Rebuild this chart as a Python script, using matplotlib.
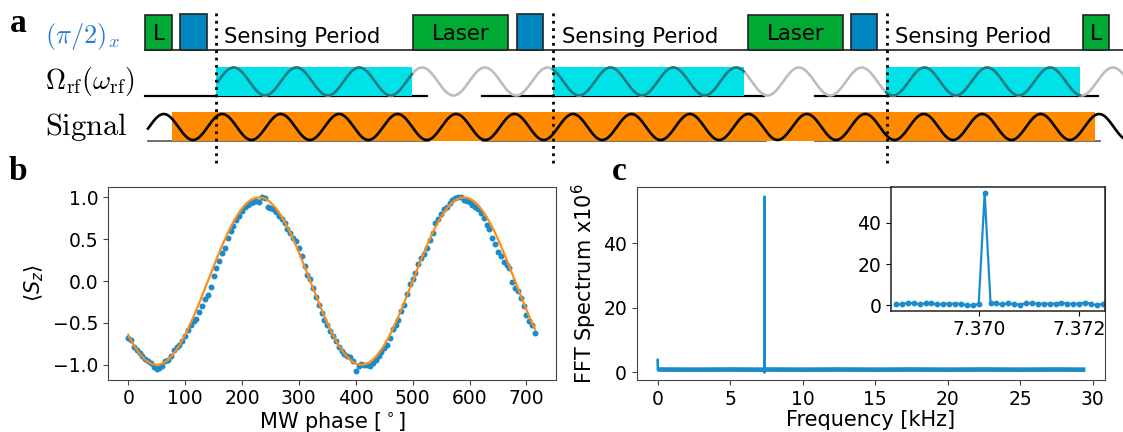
import numpy as np
import matplotlib.pyplot as plt
from matplotlib.patches import Rectangle

# ---------- panel a: pulse sequence (timeline units = px of the sketch) ----------
green_pulses = [(145, 172), (413, 508), (748, 843), (1083, 1109)]
green_labels = ['L', 'Laser', 'Laser', 'L']
blue_pulses = [(180, 207), (517, 543), (851, 877)]
sensing_starts = [216, 553, 887]
sensing_text_x = [224, 562, 895]
rf_windows = [(216, 412), (553, 744), (886, 1080)]
rf_baselines = [(145, 427), (482, 764), (815, 1098)]
rf_start, rf_end, rf_period = 218, 1123, 62.8
signal_box = (172, 1095)
signal_start, signal_end, signal_period, signal_trough = 148, 1123, 58.46, 193
seq_start, seq_end = 145, 1123

# ---------- panel b: Ramsey fringe vs MW phase ----------
phase = [0, 5, 10, 15, 20, 25, 30, 35, 40, 45, 50, 55, 60, 65, 70, 75, 80, 85, 90, 95,
         100, 105, 110, 115, 120, 125, 130, 135, 140, 145, 150, 155, 160, 165, 170, 175,
         180, 185, 190, 195, 200, 205, 210, 215, 220, 225, 230, 235, 240, 245, 250, 255,
         260, 265, 270, 275, 280, 285, 290, 295, 300, 305, 310, 315, 320, 325, 330, 335,
         340, 345, 350, 355, 360, 365, 370, 375, 380, 385, 390, 395, 400, 405, 410, 415,
         420, 425, 430, 435, 440, 445, 450, 455, 460, 465, 470, 475, 480, 485, 490, 495,
         500, 505, 510, 515, 520, 525, 530, 535, 540, 545, 550, 555, 560, 565, 570, 575,
         580, 585, 590, 595, 600, 605, 610, 615, 620, 625, 630, 635, 640, 645, 650, 655,
         660, 665, 670, 675, 680, 685, 690, 695, 700, 705, 710, 715]
sz = [-0.68, -0.70, -0.79, -0.82, -0.86, -0.90, -0.93, -0.96, -0.98, -1.03, -1.05, -1.04,
      -1.01, -0.95, -0.94, -0.90, -0.82, -0.79, -0.76, -0.72, -0.66, -0.59, -0.52, -0.48,
      -0.45, -0.37, -0.30, -0.22, -0.17, -0.07, 0.06, 0.15, 0.24, 0.33, 0.39, 0.52,
      0.60, 0.66, 0.73, 0.78, 0.84, 0.88, 0.91, 0.93, 0.95, 0.96, 0.94, 1.01, 0.99, 0.89,
      0.87, 0.86, 0.83, 0.78, 0.74, 0.69, 0.62, 0.58, 0.52, 0.48, 0.40, 0.30, 0.18, 0.07,
      0.02, -0.08, -0.19, -0.29, -0.38, -0.46, -0.52, -0.60, -0.66, -0.72, -0.79, -0.84,
      -0.87, -0.89, -0.91, -0.95, -1.08, -1.02, -0.99, -1.00, -1.00, -1.01, -0.98, -0.94,
      -0.89, -0.85, -0.80, -0.76, -0.68, -0.57, -0.52, -0.47, -0.36, -0.29, -0.15, -0.03,
      0.02, 0.10, 0.20, 0.27, 0.32, 0.40, 0.49, 0.58, 0.69, 0.74, 0.80, 0.86, 0.89, 0.93,
      0.97, 0.99, 1.00, 1.00, 0.97, 0.96, 0.94, 0.91, 0.88, 0.86, 0.81, 0.75, 0.67, 0.62,
      0.51, 0.44, 0.35, 0.30, 0.23, 0.19, 0.15, -0.01, -0.08, -0.12, -0.20, -0.30, -0.40,
      -0.48, -0.53, -0.62]
fit_phase = phase
fit_sz = [-0.643, -0.707, -0.766, -0.819, -0.866, -0.906, -0.940, -0.966, -0.985, -0.996,
          -1.000, -0.996, -0.985, -0.966, -0.940, -0.906, -0.866, -0.819, -0.766, -0.707,
          -0.643, -0.574, -0.500, -0.423, -0.342, -0.259, -0.174, -0.087, 0.000, 0.087,
          0.174, 0.259, 0.342, 0.423, 0.500, 0.574, 0.643, 0.707, 0.766, 0.819, 0.866,
          0.906, 0.940, 0.966, 0.985, 0.996, 1.000, 0.996, 0.985, 0.966, 0.940, 0.906,
          0.866, 0.819, 0.766, 0.707, 0.643, 0.574, 0.500, 0.423, 0.342, 0.259, 0.174,
          0.087, 0.000, -0.087, -0.174, -0.259, -0.342, -0.423, -0.500, -0.574, -0.643,
          -0.707, -0.766, -0.819, -0.866, -0.906, -0.940, -0.966, -0.985, -0.996, -1.000,
          -0.996, -0.985, -0.966, -0.940, -0.906, -0.866, -0.819, -0.766, -0.707, -0.643,
          -0.574, -0.500, -0.423, -0.342, -0.259, -0.174, -0.087, 0.000, 0.087, 0.174,
          0.259, 0.342, 0.423, 0.500, 0.574, 0.643, 0.707, 0.766, 0.819, 0.866, 0.906,
          0.940, 0.966, 0.985, 0.996, 1.000, 0.996, 0.985, 0.966, 0.940, 0.906, 0.866,
          0.819, 0.766, 0.707, 0.643, 0.574, 0.500, 0.423, 0.342, 0.259, 0.174, 0.087,
          0.000, -0.087, -0.174, -0.259, -0.342, -0.423, -0.500, -0.574]

# ---------- panel c: FFT spectrum ----------
band_freq = [0.0, 2.5, 5.0, 7.3, 7.45, 10.0, 12.5, 15.0, 17.5, 20.0, 22.5, 25.0, 27.5, 29.5]
band_amp = [0.85, 0.8, 0.85, 0.8, 0.85, 0.8, 0.85, 0.8, 0.85, 0.8, 0.85, 0.8, 0.85, 0.8]
dc_freq = [0.0, 0.0, 0.03]
dc_amp = [0.8, 4.0, 0.8]
peak_freq = [7.368355, 7.368473, 7.368590, 7.368708, 7.368825, 7.368943, 7.369060,
             7.369178, 7.369295, 7.369413, 7.369530, 7.369648, 7.369765, 7.369883,
             7.370000, 7.370118, 7.370235, 7.370353, 7.370470, 7.370588, 7.370705,
             7.370823, 7.370940, 7.371058, 7.371175, 7.371293, 7.371410, 7.371528,
             7.371645, 7.371763, 7.371880, 7.371998, 7.372115, 7.372233, 7.372350,
             7.372468]
peak_amp = [0.5, 0.5, 1.3, 1.0, 0.5, 1.0, 0.9, 0.5, 0.7, 0.8, 0.8, 0.8, 0.0, 0.0, 0.7,
            54.5, 1.3, 0.9, 0.5, 1.0, 0.5, 0.4, 1.0, 1.0, 0.8, 0.8, 0.8, 0.8, 1.3, 0.8,
            0.8, 0.8, 1.3, 0.8, 0.0, 0.8]

GREEN = '#00a934'
BLUE_BOX = '#0087c1'
CYAN = '#00e1e8'
ORANGE_BOX = '#ff8a00'
DOT_BLUE = '#1b8cc9'
FIT_ORANGE = '#ff8c1a'
SPINE = '#444444'
TICK_FS = 13.5
LABEL_FS = 15

W, H = 1123, 432
fig = plt.figure(figsize=(W / 100, H / 100), dpi=100)

# ---------- sketch layer (a) ----------
ax0 = fig.add_axes([0, 0, 1, 1])
ax0.set_xlim(0, W)
ax0.set_ylim(H, 0)
ax0.axis('off')

# row 1: pulses
ax0.plot([seq_start, seq_end], [50, 50], color='#222222', lw=1.2, zorder=2)
for (x0, x1), lab in zip(green_pulses, green_labels):
    ax0.add_patch(Rectangle((x0, 15), x1 - x0, 35, facecolor=GREEN,
                            edgecolor='#222222', lw=1.2, zorder=3))
    ax0.text((x0 + x1) / 2, 34, lab, ha='center', va='center', fontsize=15.3, zorder=4)
for x0, x1 in blue_pulses:
    ax0.add_patch(Rectangle((x0, 14), x1 - x0, 36, facecolor=BLUE_BOX,
                            edgecolor='#222222', lw=1.2, zorder=3))
for x in sensing_text_x:
    ax0.text(x, 43, 'Sensing Period', ha='left', va='baseline', fontsize=15.3, zorder=4)

# row 2: rf drive
for x0, x1 in rf_baselines:
    ax0.plot([x0, x1], [96, 96], color='black', lw=1.6, zorder=2)
for x0, x1 in rf_windows:
    ax0.add_patch(Rectangle((x0, 67), x1 - x0, 29, facecolor=CYAN, edgecolor='none', zorder=3))
t_rf = np.linspace(rf_start, rf_end, 2000)
y_rf = 81.5 - 14 * np.sin(2 * np.pi * (t_rf - rf_start) / rf_period)
ax0.plot(t_rf, y_rf, color='#bdbdbd', lw=1.9, zorder=2.5)
for x0, x1 in rf_windows:
    m = (t_rf >= x0) & (t_rf <= x1)
    ax0.plot(t_rf[m], y_rf[m], color='#1f7a82', lw=1.9, zorder=4)

# row 3: signal
for x0, x1 in rf_baselines:
    ax0.plot([max(x0, signal_start), x1 + 2], [141, 141], color='#555555', lw=1.2, zorder=2)
ax0.add_patch(Rectangle((signal_box[0], 112), signal_box[1] - signal_box[0], 29,
                        facecolor=ORANGE_BOX, edgecolor='none', zorder=3))
t_sig = np.linspace(signal_start, signal_end, 2000)
y_sig = 127 + 13 * np.cos(2 * np.pi * (t_sig - signal_trough) / signal_period)
ax0.plot(t_sig, y_sig, color='black', lw=1.9, zorder=4)

for x in sensing_starts:
    ax0.plot([x, x], [13, 163], color='black', ls=':', lw=2.0, zorder=5)

ax0.text(45, 37, r'$(\pi/2)_x$', color='#2a7bd5', fontsize=19, va='center', ha='left',
         math_fontfamily='cm')
ax0.text(45, 82, r'$\Omega_{\rm rf}(\omega_{\rm rf})$', fontsize=20, va='center', ha='left',
         math_fontfamily='cm')
ax0.text(45, 135, r'$\mathrm{Signal}$', fontsize=22, va='baseline', ha='left',
         math_fontfamily='cm')

for lab, x, y in [('a', 10, 32), ('b', 9, 180), ('c', 612, 180)]:
    ax0.text(x, y, lab, fontsize=24, fontweight='bold', family='Liberation Serif',
             va='baseline', ha='left')

# ---------- panel b ----------
axb = fig.add_axes([108.3 / W, 1 - 379.5 / H, (556 - 108.3) / W, (379.5 - 187.3) / H])
axb.plot(phase, sz, 'o', color=DOT_BLUE, ms=4.3, mew=0)
axb.plot(fit_phase, fit_sz, color=FIT_ORANGE, lw=1.6)
axb.set_xlim(-35, 752)
axb.set_ylim(-1.176, 1.12)
axb.set_xticks([0, 100, 200, 300, 400, 500, 600, 700])
axb.set_yticks([-1.0, -0.5, 0.0, 0.5, 1.0])
axb.set_xlabel(r'MW phase [$^\circ$]', fontsize=LABEL_FS, labelpad=1)
axb.set_ylabel(r'$\langle S_z\rangle$', fontsize=LABEL_FS, labelpad=5)
axb.tick_params(labelsize=TICK_FS, color=SPINE)
for s in axb.spines.values():
    s.set_color(SPINE)

# ---------- panel c ----------
axc = fig.add_axes([636.7 / W, 1 - 380 / H, (1105 - 636.7) / W, (380 - 187.3) / H])
axc.plot(dc_freq, dc_amp, color=DOT_BLUE, lw=1.6)
axc.plot(peak_freq, peak_amp, color=DOT_BLUE, lw=1.8)
axc.plot(band_freq, band_amp, color=DOT_BLUE, lw=3.4, solid_capstyle='butt')
axc.set_xlim(-1.45, 30.85)
axc.set_ylim(-2.4, 57.4)
axc.set_xticks([0, 5, 10, 15, 20, 25, 30])
axc.set_yticks([0, 20, 40])
axc.set_xlabel('Frequency [kHz]', fontsize=LABEL_FS, labelpad=1)
axc.set_ylabel(r'FFT Spectrum x10$^6$', fontsize=LABEL_FS, labelpad=3)
axc.tick_params(labelsize=TICK_FS, color=SPINE)
for s in axc.spines.values():
    s.set_color(SPINE)

# inset
axi = fig.add_axes([891 / W, 1 - 310.7 / H, (1105 - 891) / W, (310.7 - 187.3) / H])
axi.plot(peak_freq, peak_amp, '-o', color=DOT_BLUE, lw=1.6, ms=3.2)
axi.set_xlim(7.368256, 7.372511)
axi.set_ylim(-2.6, 57.3)
axi.set_xticks([7.370, 7.372])
axi.set_xticklabels(['7.370', '7.372'])
axi.set_yticks([0, 20, 40])
axi.tick_params(labelsize=TICK_FS)
for s in axi.spines.values():
    s.set_color('#222222')
    s.set_linewidth(1.1)

fig.savefig('out.png', dpi=100)
